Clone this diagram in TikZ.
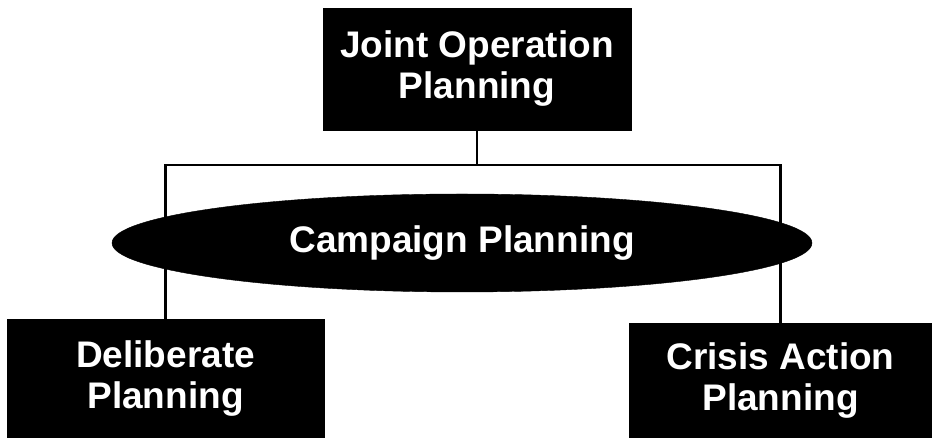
\documentclass[tikz,border=0pt]{standalone}
\usepackage{fontspec}
\setmainfont{Liberation Sans}
\usepackage{tikz}
\usetikzlibrary{shapes.geometric}

\begin{document}
\begin{tikzpicture}[x=1pt,y=1pt]
        \tikzset{box/.style = {shape=rectangle,fill=black,draw=black,inner sep=0pt,text=white,align=center,
                 font=\fontsize{37}{41}\selectfont\bfseries}}
        \tikzset{oval/.style = {shape=ellipse,fill=black,draw=black,inner sep=0pt,text=white,
                 font=\fontsize{37}{41}\selectfont\bfseries}}
        \tikzset{edge/.style = {line width=2.5pt}}
        \useasboundingbox (0,0) rectangle (932,438);
        % boxes
        \node[box,minimum width=308,minimum height=122] (jop) at (477,369) {Joint Operation\\Planning};
        \node[box,minimum width=317,minimum height=119] (delib) at (165.5,59.5) {Deliberate\\Planning};
        \node[box,minimum width=303,minimum height=115] (cap) at (780.5,57.5) {Crisis Action\\Planning};

        %edges
        \draw[edge] (jop.south) -- ++(0,-35) coordinate (bus);
        \draw[edge] (bus) -| (delib.north);
        \draw[edge] (bus) -| (cap.north);

        % ellipse on top of the lines
        \node[oval,minimum width=700,minimum height=98] (camp) at (462,195) {Campaign Planning};
\end{tikzpicture}
\end{document}
